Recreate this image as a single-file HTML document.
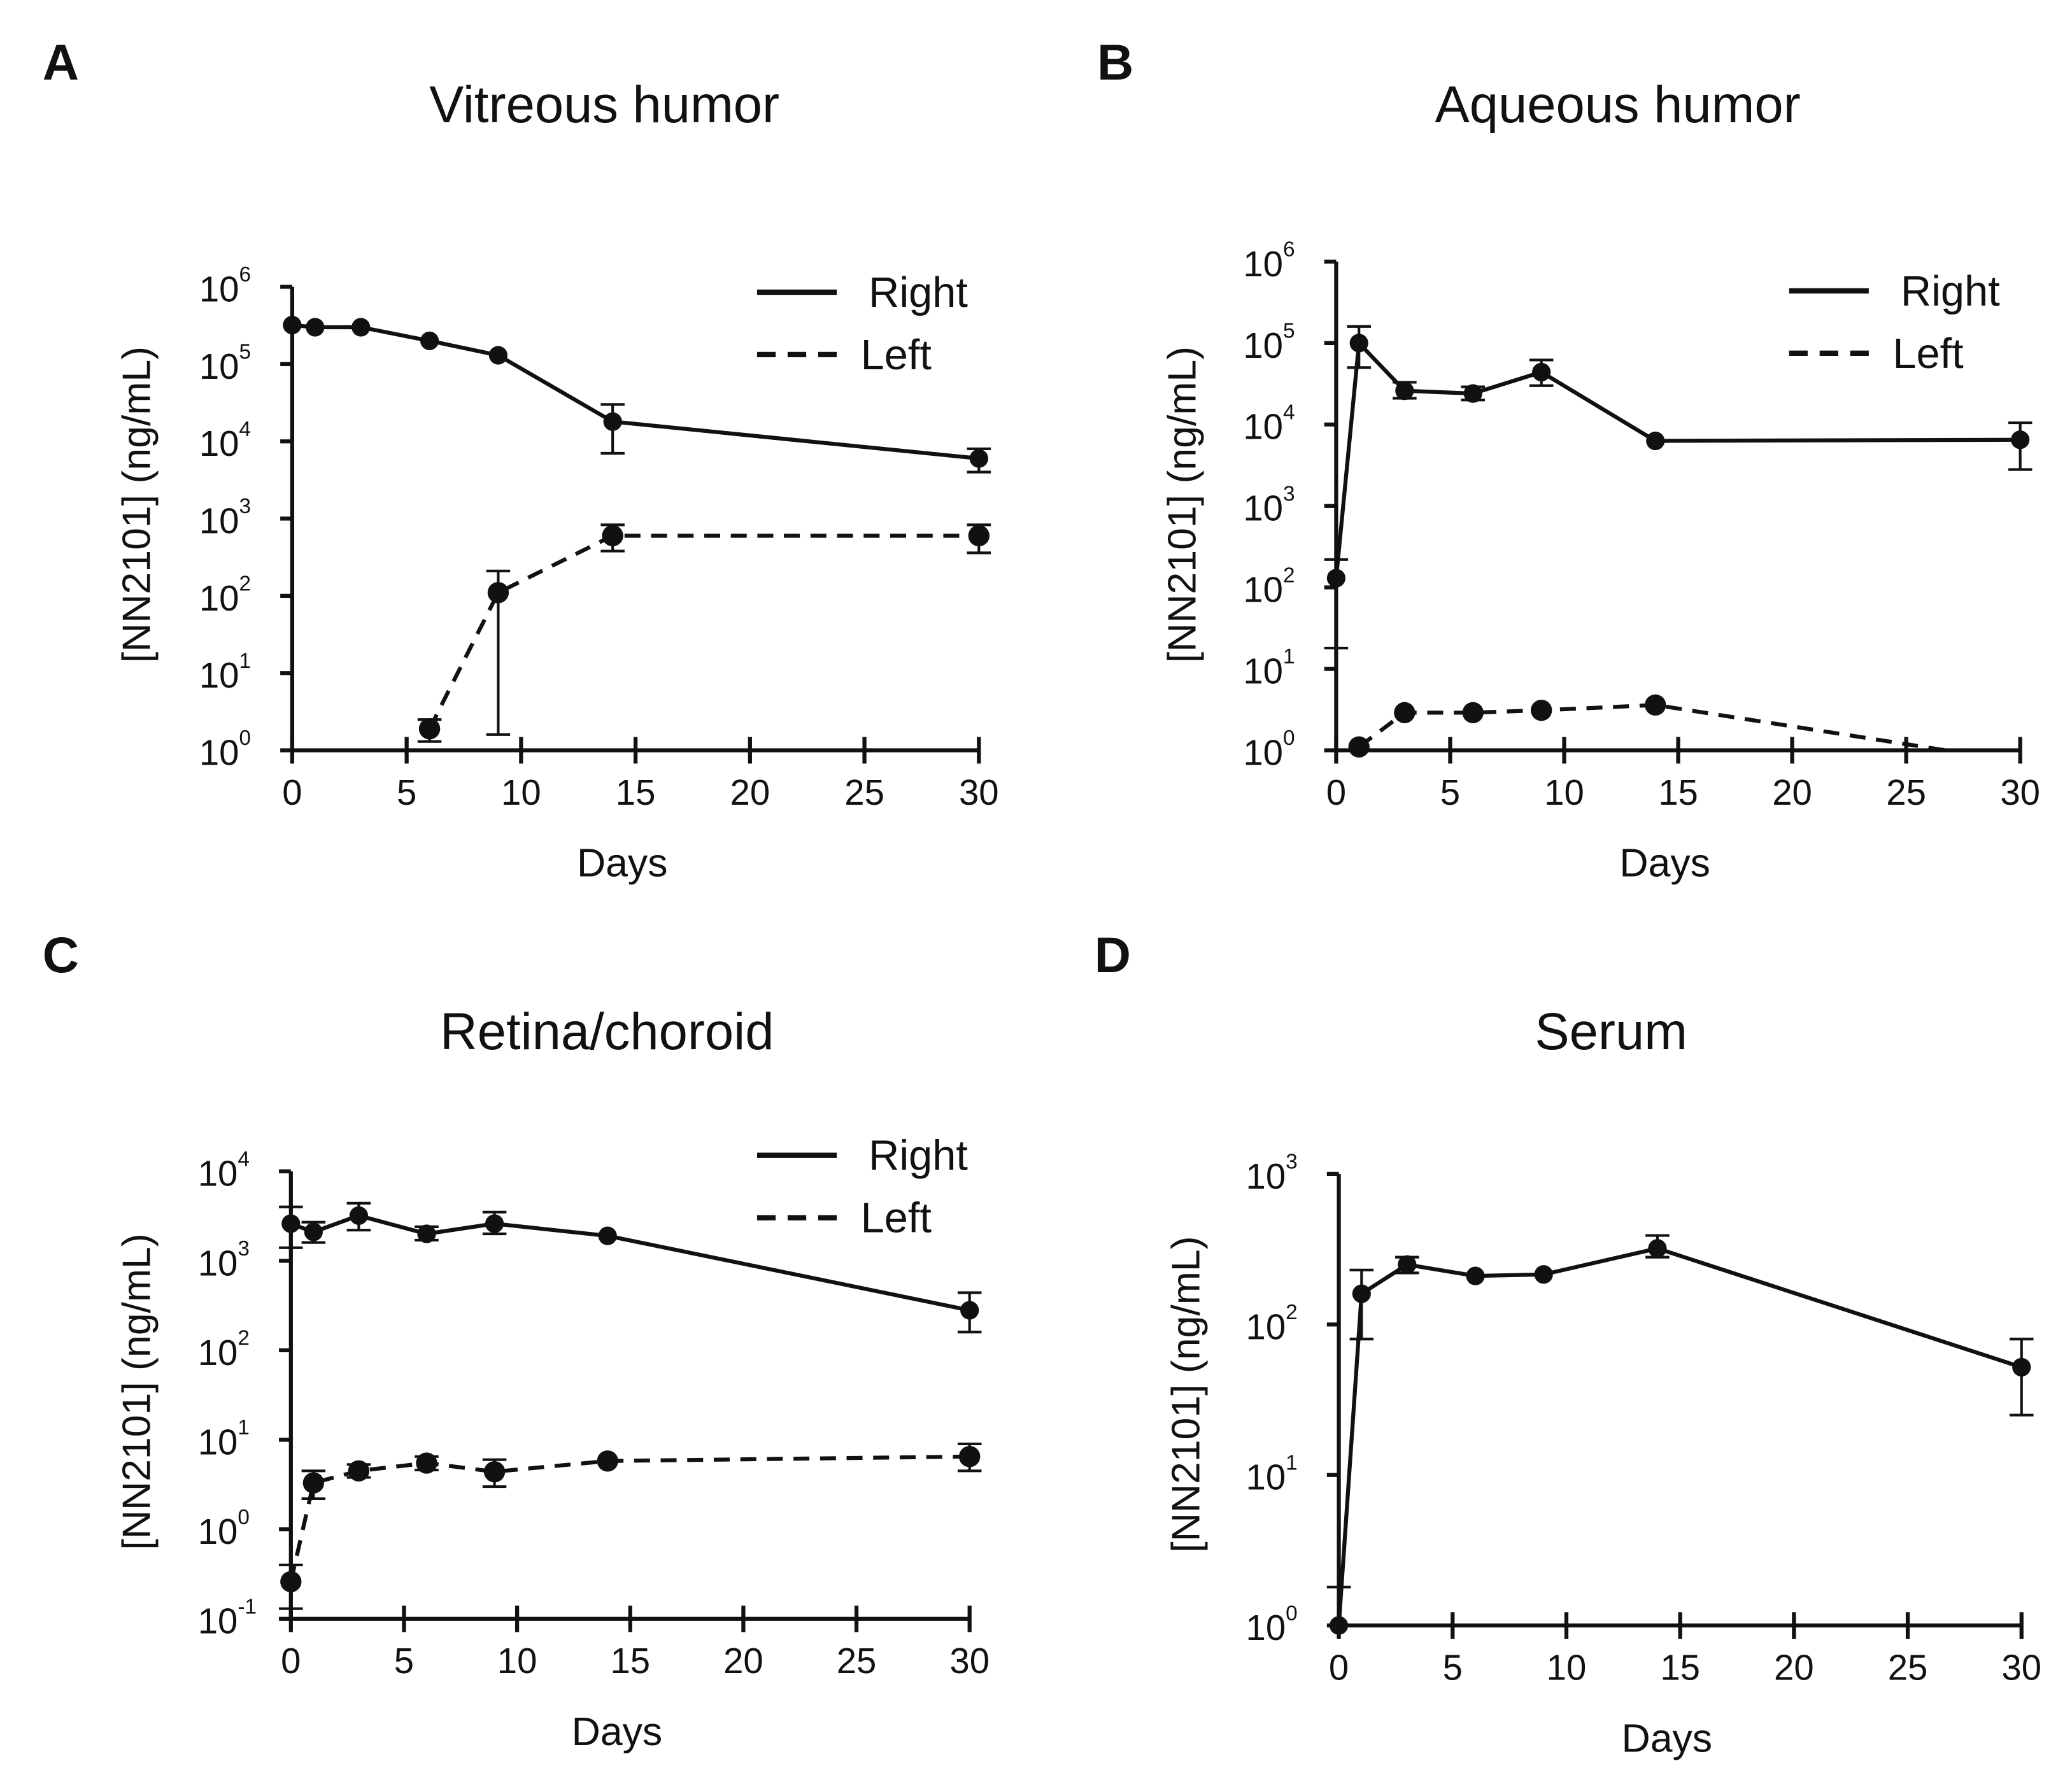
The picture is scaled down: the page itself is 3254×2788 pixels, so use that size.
<!DOCTYPE html>
<html><head><meta charset="utf-8"><style>
html,body{margin:0;padding:0;background:#fff}
svg{display:block}
text{font-family:"Liberation Sans",Arial,sans-serif;fill:#111}
</style></head><body>
<svg id="fig" width="3254" height="2788" viewBox="0 0 1560 1336.6" xmlns="http://www.w3.org/2000/svg">
<rect width="1560" height="1337" fill="#fff"/>
</svg>
<script>
const days = [0,1,3,6,9,14,30];
const xTicks = [0,5,10,15,20,25,30];
// Panel A
const aRight = [3.2e5,3.0e5,3.0e5,2.0e5,1.3e5,1.8e4,6.0e3];
const aRightLo = [null,null,null,null,null,7e3,4e3];
const aRightHi = [null,null,null,null,null,3e4,8e3];
const aLeftDays = [6,9,14,30];
const aLeft = [1.9,110,600,600];
const aLeftLo = [1.3,1.6,380,360];
const aLeftHi = [2.5,210,830,830];
// Panel B
const bRight = [130,1.0e5,2.6e4,2.4e4,4.4e4,6.3e3,6.5e3];
const bRightLo = [18,5e4,2.1e4,2e4,3e4,null,2.8e3];
const bRightHi = [220,1.6e5,3.3e4,2.9e4,6.2e4,null,1.05e4];
const bLeftDays = [1,3,6,9,14,30];
const bLeft = [1.1,2.9,2.9,3.1,3.6,0.72];
// Panel C
const cRight = [2.6e3,2.1e3,3.2e3,2.0e3,2.6e3,1.9e3,2.8e2];
const cRightLo = [1.4e3,1.6e3,2.2e3,1.7e3,2.0e3,null,1.6e2];
const cRightHi = [4.0e3,2.7e3,4.4e3,2.4e3,3.5e3,null,4.4e2];
const cLeft = [0.26,3.3,4.5,5.5,4.4,5.8,6.5];
const cLeftLo = [0.13,2.2,3.8,4.6,3.0,null,4.5];
const cLeftHi = [0.4,4.5,5.3,6.5,6.0,null,9.0];
// Panel D
const dSerum = [1.0,160,250,210,215,320,52];
const dSerumLo = [null,80,220,null,null,280,25];
const dSerumHi = [1.8,230,280,null,null,390,80];

const NS="http://www.w3.org/2000/svg";
const svg=document.getElementById('fig');
function mk(tag,attrs,parent){const e=document.createElementNS(NS,tag);for(const k in attrs)e.setAttribute(k,attrs[k]);(parent||svg).appendChild(e);return e;}
function txt(s,attrs,parent){const e=mk('text',attrs,parent);e.textContent=s;return e;}

function panel(cfg){
  const g=mk('g',{});
  
  
  const X=d=>cfg.x0+(cfg.x30-cfg.x0)*d/30;
  const Y=v=>cfg.yBot-(Math.log10(v)-cfg.eMin)*(cfg.yBot-cfg.yTop)/(cfg.eMax-cfg.eMin);
  const L=txt(cfg.letter,{x:cfg.lx,y:cfg.ly,'font-size':38,'font-weight':'bold'},g);
  
  
  const T=txt(cfg.title,{x:cfg.tx,y:cfg.ty,'font-size':39,'text-anchor':'middle'},g);
  
  
  const ax=mk('path',{d:`M${cfg.x0},${cfg.yTop} V${cfg.yBot} H${cfg.x30}`,stroke:'#111','stroke-width':3,fill:'none'},g);
  
  
  for(const t of xTicks){
    mk('line',{x1:X(t),x2:X(t),y1:cfg.yBot-10,y2:cfg.yBot+10,stroke:'#111','stroke-width':3},g);
    const tl=txt(String(t),{x:X(t),y:cfg.yBot+41,'font-size':27,'text-anchor':'middle'},g);
    
    
  }
  for(let e=cfg.eMin;e<=cfg.eMax;e++){
    const y=Y(Math.pow(10,e));
    mk('line',{x1:cfg.x0-9,x2:cfg.x0,y1:y,y2:y,stroke:'#111','stroke-width':3},g);
    const tl=txt('10',{x:cfg.x0-40,y:y+11,'font-size':27,'text-anchor':'end'},g);
    
    
    txt(String(e),{x:cfg.x0-40,y:y-4,'font-size':16},g);
  }
  const yl=txt('[NN2101] (ng/mL)',{x:0,y:0,'font-size':30,'text-anchor':'middle',transform:`translate(${cfg.ylx},${cfg.yly}) rotate(-90)`},g);
  
  
  const xl=txt('Days',{x:(cfg.x0+cfg.x30)/2-10,y:cfg.yBot+95,'font-size':30,'text-anchor':'middle'},g);
  
  
  const cid='clip'+cfg.letter;
  const cp=mk('clipPath',{id:cid},g);
  mk('rect',{x:cfg.x0-20,y:cfg.yTop-30,width:cfg.x30-cfg.x0+40,height:cfg.yBot-cfg.yTop+31},cp);
  const plot=mk('g',{'clip-path':`url(#${cid})`},g);
  cfg.series.forEach(s=>{
    const sg=mk('g',{},plot);
    
    
    const mg=mk('g',{},g);
    
    
    const pts=s.days.map((d,i)=>X(d)+','+Y(s.vals[i])).join(' ');
    mk('polyline',{points:pts,fill:'none',stroke:'#111','stroke-width':3,'stroke-dasharray':s.dash?'12,8':'none'},sg);
    s.days.forEach((d,i)=>{
      const x=X(d);
      if(s.lo&&s.lo[i]!=null){mk('line',{x1:x,x2:x,y1:Y(s.vals[i]),y2:Y(s.lo[i]),stroke:'#111','stroke-width':2},sg);mk('line',{x1:x-9,x2:x+9,y1:Y(s.lo[i]),y2:Y(s.lo[i]),stroke:'#111','stroke-width':2},sg);}
      if(s.hi&&s.hi[i]!=null){mk('line',{x1:x,x2:x,y1:Y(s.vals[i]),y2:Y(s.hi[i]),stroke:'#111','stroke-width':2},sg);mk('line',{x1:x-9,x2:x+9,y1:Y(s.hi[i]),y2:Y(s.hi[i]),stroke:'#111','stroke-width':2},sg);}
      if(s.vals[i]>=Math.pow(10,cfg.eMin)){
        const c=mk('circle',{cx:x,cy:Y(s.vals[i]),r:s.r||7,fill:'#111'},mg);
        
        
      }
    });
  });
  if(cfg.legend){
    const lg=mk('g',{},g);
    
    
    const [lx,ly]=cfg.legend;
    mk('line',{x1:lx,x2:lx+60,y1:ly,y2:ly,stroke:'#111','stroke-width':4},lg);
    txt('Right',{x:lx+84,y:ly+11,'font-size':32},lg);
    mk('line',{x1:lx,x2:lx+60,y1:ly+47,y2:ly+47,stroke:'#111','stroke-width':4,'stroke-dasharray':'14,9'},lg);
    txt('Left',{x:lx+78,y:ly+58,'font-size':32},lg);
  }
}

panel({name:'panel-a-vitreous',letter:'A',lx:32,ly:60,title:'Vitreous humor',tx:455,ty:92,x0:220,x30:737,yTop:216,yBot:565,eMin:0,eMax:6,ylx:113,yly:380,legend:[570,220],
  series:[{name:'series-right',days:days,vals:aRight,lo:aRightLo,hi:aRightHi},
          {name:'series-left',days:aLeftDays,vals:aLeft,lo:aLeftLo,hi:aLeftHi,dash:true,r:8}]});
panel({name:'panel-b-aqueous',letter:'B',lx:826,ly:60,title:'Aqueous humor',tx:1218,ty:92,x0:1006,x30:1521,yTop:197,yBot:565,eMin:0,eMax:6,ylx:900,yly:380,legend:[1347,219],
  series:[{name:'series-right',days:days,vals:bRight,lo:bRightLo,hi:bRightHi},
          {name:'series-left',days:bLeftDays,vals:bLeft,dash:true,r:8}]});
panel({name:'panel-c-retina',letter:'C',lx:32,ly:732,title:'Retina/choroid',tx:457,ty:790,x0:219,x30:730,yTop:882,yBot:1219,eMin:-1,eMax:4,ylx:113,yly:1048,legend:[570,870],
  series:[{name:'series-right',days:days,vals:cRight,lo:cRightLo,hi:cRightHi},
          {name:'series-left',days:days,vals:cLeft,lo:cLeftLo,hi:cLeftHi,dash:true,r:8}]});
panel({name:'panel-d-serum',letter:'D',lx:824,ly:732,title:'Serum',tx:1213,ty:790,x0:1008,x30:1522,yTop:884,yBot:1224,eMin:0,eMax:3,ylx:903,yly:1050,
  series:[{name:'series-serum',days:days,vals:dSerum,lo:dSerumLo,hi:dSerumHi}]});
</script>
</body></html>
